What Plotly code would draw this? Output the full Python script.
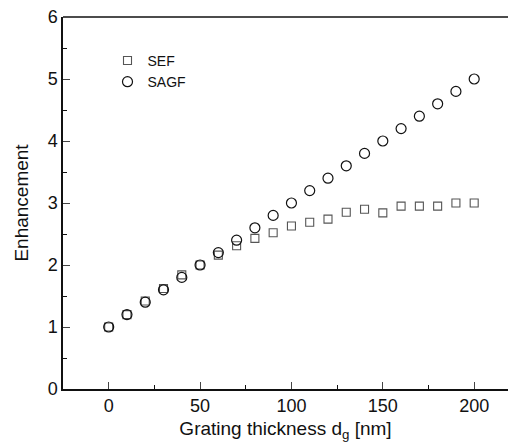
import plotly.graph_objects as go

thickness = [0, 10, 20, 30, 40, 50, 60, 70, 80, 90, 100, 110, 120, 130, 140, 150, 160, 170, 180, 190, 200]
sef = [1.0, 1.2, 1.42, 1.62, 1.84, 2.0, 2.16, 2.31, 2.43, 2.52, 2.63, 2.69, 2.74, 2.85, 2.9, 2.84, 2.95, 2.95, 2.95, 3.0, 3.0]
sagf = [1.0, 1.2, 1.4, 1.6, 1.8, 2.0, 2.2, 2.4, 2.6, 2.8, 3.0, 3.2, 3.4, 3.6, 3.8, 4.0, 4.2, 4.4, 4.6, 4.8, 5.0]

x_ticks = [0, 50, 100, 150, 200]
y_ticks = [0, 1, 2, 3, 4, 5, 6]

fig = go.Figure()
fig.add_trace(go.Scatter(x=thickness, y=sef, mode="markers", name="SEF",
                         marker=dict(symbol="square-open", size=8, color="#555555", line=dict(width=1.1))))
fig.add_trace(go.Scatter(x=thickness, y=sagf, mode="markers", name="SAGF",
                         marker=dict(symbol="circle-open", size=10, color="#111111", line=dict(width=1.2))))

font = "Liberation Sans, Arial, sans-serif"
fig.update_layout(
    width=508, height=445,
    margin=dict(l=63, r=0, t=17, b=56),
    paper_bgcolor="white", plot_bgcolor="white",
    font=dict(family=font, color="#111111"),
    showlegend=True,
    legend=dict(x=0.1, y=0.925, xanchor="left", yanchor="top",
                font=dict(size=14, family=font, color="#111111"),
                bgcolor="rgba(0,0,0,0)", itemwidth=30, tracegroupgap=0),
    xaxis=dict(range=[-25, 218.5], tickvals=x_ticks, ticks="inside", ticklen=7, tickwidth=1.2,
               showline=True, linecolor="#111111", linewidth=1.5, mirror=False,
               showgrid=False, zeroline=False,
               tickfont=dict(size=18), title=dict(text="Grating thickness d<sub>g</sub> [nm]", font=dict(size=19), standoff=6),
               minor=dict(tickvals=[-25, 25, 75, 125, 175], ticks="inside", ticklen=4, tickcolor="#111111")),
    yaxis=dict(range=[0, 6], tickvals=y_ticks, ticks="inside", ticklen=7, tickwidth=1.2,
               showline=True, linecolor="#111111", linewidth=1.5,
               showgrid=False, zeroline=False,
               tickfont=dict(size=18), title=dict(text="Enhancement", font=dict(size=19), standoff=14),
               minor=dict(tickvals=[0.5, 1.5, 2.5, 3.5, 4.5, 5.5], ticks="inside", ticklen=4, tickcolor="#111111")),
)
fig.add_shape(type="line", xref="paper", yref="paper", x0=0, x1=1, y0=1, y1=1,
              line=dict(color="#111111", width=1.5))

fig.write_html("out.html")
